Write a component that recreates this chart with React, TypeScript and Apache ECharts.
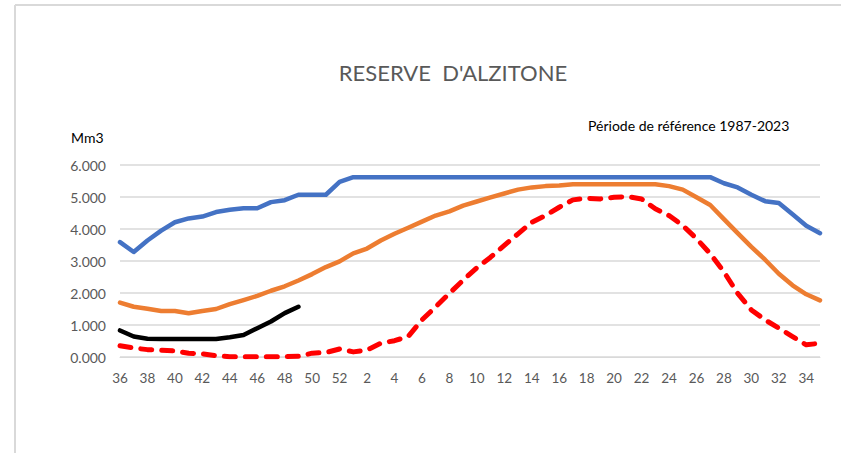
import React, { useEffect, useRef } from "react";
import * as echarts from "echarts";

const weeks: string[] = [
  "36","37","38","39","40","41","42","43","44","45","46","47","48","49","50","51","52",
  "1","2","3","4","5","6","7","8","9","10","11","12","13","14","15","16","17","18",
  "19","20","21","22","23","24","25","26","27","28","29","30","31","32","33","34","35",
];

const maxSeries: number[] = [
  3.59, 3.28, 3.64, 3.95, 4.21, 4.33, 4.39, 4.53, 4.60, 4.65, 4.65, 4.84, 4.90, 5.07, 5.07, 5.07, 5.47,
  5.62, 5.62, 5.62, 5.62, 5.62, 5.62, 5.62, 5.62, 5.62, 5.62, 5.62, 5.62, 5.62, 5.62, 5.62, 5.62, 5.62, 5.62,
  5.62, 5.62, 5.62, 5.62, 5.62, 5.62, 5.62, 5.62, 5.62, 5.43, 5.30, 5.07, 4.87, 4.81, 4.46, 4.10, 3.87,
];

const medSeries: number[] = [
  1.70, 1.57, 1.51, 1.44, 1.44, 1.37, 1.44, 1.50, 1.65, 1.78, 1.91, 2.07, 2.21, 2.39, 2.59, 2.81, 2.99,
  3.24, 3.39, 3.64, 3.85, 4.04, 4.23, 4.42, 4.55, 4.73, 4.86, 4.99, 5.11, 5.23, 5.30, 5.34, 5.36, 5.40, 5.40,
  5.40, 5.40, 5.40, 5.40, 5.40, 5.34, 5.23, 4.99, 4.75, 4.31, 3.87, 3.44, 3.04, 2.60, 2.24, 1.96, 1.77,
];

const minSeries: number[] = [
  0.35, 0.28, 0.23, 0.21, 0.19, 0.12, 0.10, 0.04, 0.01, 0.01, 0.01, 0.01, 0.01, 0.02, 0.12, 0.14, 0.25,
  0.16, 0.22, 0.43, 0.51, 0.64, 1.16, 1.57, 1.99, 2.40, 2.79, 3.12, 3.49, 3.85, 4.21, 4.42, 4.68, 4.91, 4.96,
  4.94, 4.99, 5.01, 4.94, 4.63, 4.42, 4.11, 3.70, 3.23, 2.66, 1.99, 1.47, 1.16, 0.90, 0.64, 0.38, 0.43,
];

const currentSeries: number[] = [
  0.83, 0.64, 0.57, 0.56, 0.56, 0.56, 0.56, 0.56, 0.62, 0.69, 0.90, 1.11, 1.37, 1.57,
];

const titleText = "RESERVE  D'ALZITONE";
const subtitleText = "Période de référence 1987-2023";
const unitText = "Mm3";

const FONT = "Lato, 'Open Sans', sans-serif";

export default function App() {
  const ref = useRef<HTMLDivElement>(null);

  useEffect(() => {
    if (!ref.current) return;
    const chart = echarts.init(ref.current, null, { renderer: "svg" });
    chart.setOption({
      animation: false,
      backgroundColor: "#ffffff",
      textStyle: { fontFamily: FONT },
      grid: { left: 120, right: 21, top: 165, bottom: 96 },
      xAxis: {
        type: "category",
        data: weeks,
        boundaryGap: false,
        axisLine: { show: true, lineStyle: { color: "#d9d9d9", width: 1 } },
        axisTick: { show: false },
        axisLabel: {
          interval: 1,
          color: "#595959",
          fontSize: 13.5,
          fontFamily: FONT,
          margin: 14,
        },
      },
      yAxis: {
        type: "value",
        min: 0,
        max: 6,
        interval: 1,
        axisLine: { show: false },
        axisTick: { show: false },
        splitLine: { lineStyle: { color: "#d9d9d9", width: 1.5 } },
        axisLabel: {
          color: "#595959",
          fontSize: 14,
          fontFamily: FONT,
          margin: 14,
          formatter: (v: number) => v.toFixed(3),
        },
      },
      graphic: [
        { type: "line", shape: { x1: 15, y1: 5, x2: 841, y2: 5 }, style: { stroke: "#d9d9d9", lineWidth: 2 } },
        { type: "line", shape: { x1: 15, y1: 5, x2: 15, y2: 453 }, style: { stroke: "#d9d9d9", lineWidth: 2 } },
        {
          type: "text",
          x: 453,
          y: 72,
          style: {
            text: titleText,
            fill: "#595959",
            fontSize: 22,
            fontFamily: FONT,
            align: "center",
            verticalAlign: "middle",
          },
        },
        {
          type: "text",
          x: 588,
          y: 125,
          style: {
            text: subtitleText,
            fill: "#000000",
            fontSize: 14,
            fontFamily: FONT,
            verticalAlign: "middle",
          },
        },
        {
          type: "text",
          x: 71,
          y: 137,
          style: {
            text: unitText,
            fill: "#000000",
            fontSize: 14,
            fontFamily: FONT,
            verticalAlign: "middle",
          },
        },
      ],
      series: [
        {
          name: "max",
          type: "line",
          data: maxSeries,
          symbol: "none",
          lineStyle: { color: "#4472C4", width: 4.5, cap: "round", join: "round" },
          z: 2,
        },
        {
          name: "median",
          type: "line",
          data: medSeries,
          symbol: "none",
          lineStyle: { color: "#ED7D31", width: 4.5, cap: "round", join: "round" },
          z: 3,
        },
        {
          name: "min",
          type: "line",
          data: minSeries,
          symbol: "none",
          lineStyle: { color: "#FF0000", width: 5, type: [11, 10], cap: "round", join: "round" },
          z: 4,
        },
        {
          name: "current",
          type: "line",
          data: currentSeries,
          symbol: "none",
          lineStyle: { color: "#000000", width: 4.5, cap: "round", join: "round" },
          z: 5,
        },
      ],
    });
    return () => chart.dispose();
  }, []);

  return (
    <div
      ref={ref}
      style={{ position: "fixed", left: 0, top: 0, width: 841, height: 453 }}
    />
  );
}
